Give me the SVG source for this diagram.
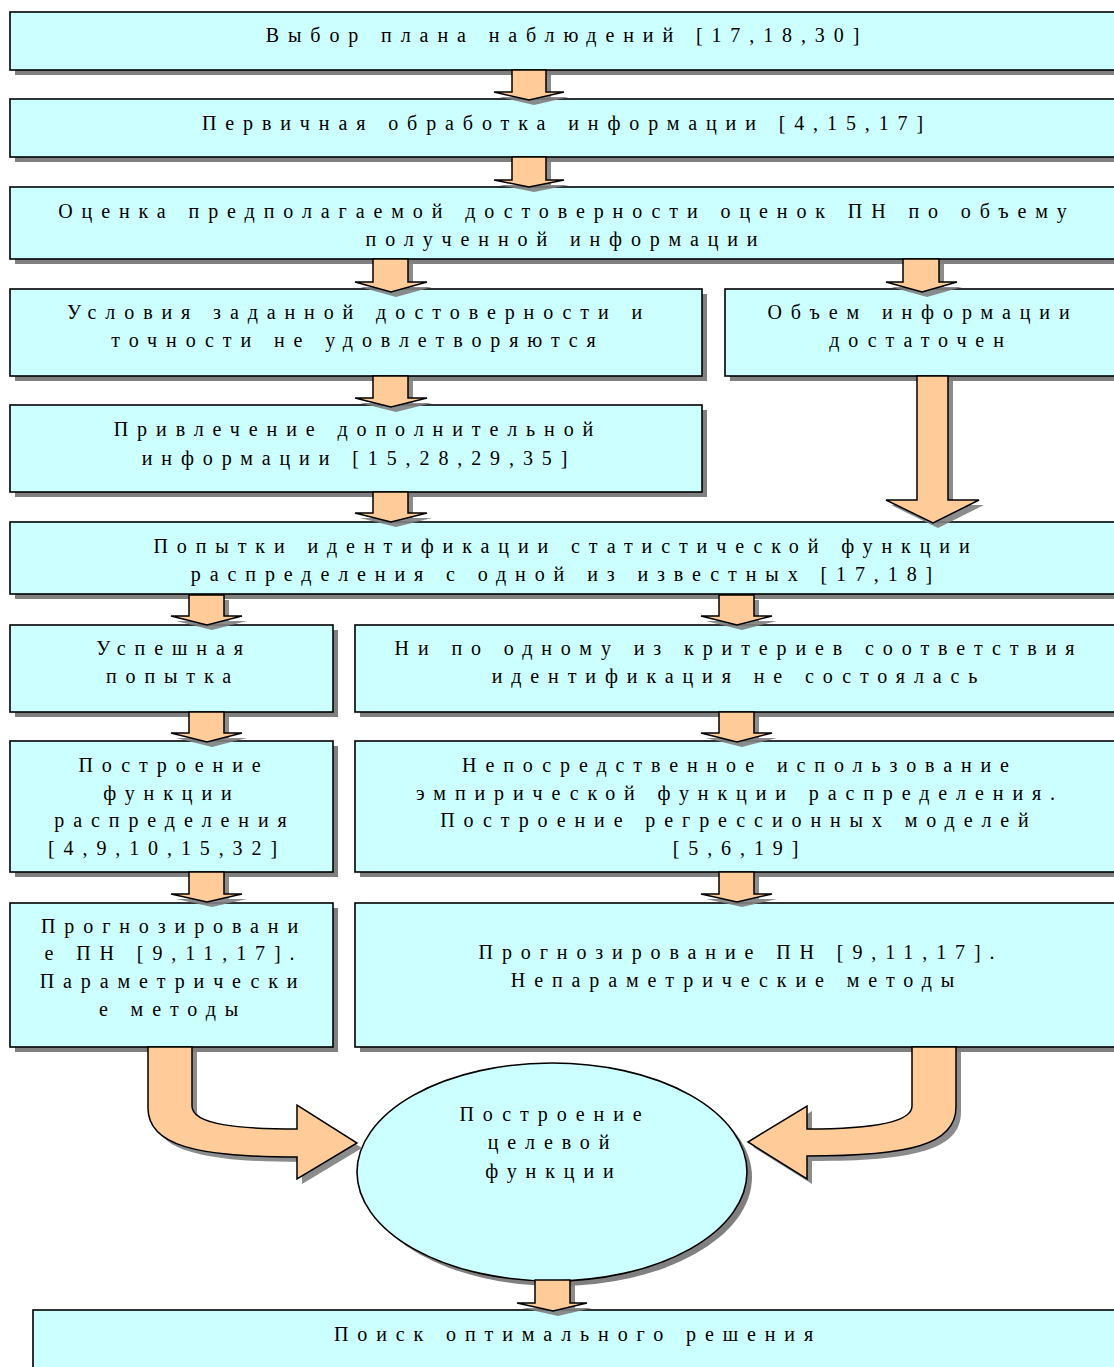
<svg xmlns="http://www.w3.org/2000/svg" width="1114" height="1367" viewBox="0 0 1114 1367">
<style>
.box{fill:#CCFFFF;stroke:#000;stroke-width:1.6}
.sh{fill:#808080}
.arr{fill:#FFCC99;stroke:#000;stroke-width:1.5;stroke-linejoin:miter}
.ash{fill:#808080;opacity:0.9}
.t{font-family:'Liberation Serif','Times New Roman','DejaVu Serif',serif;font-size:20px;letter-spacing:8.9px;fill:#000;text-anchor:middle}
</style>
<rect width="1114" height="1367" fill="#fff"/>
<g class="t" font-family="Liberation Serif, Times New Roman, serif">
<g id="n1">
<rect class="sh" x="15" y="17" width="1106" height="58"/>
<rect class="box" x="10" y="12" width="1106" height="58"/>
<text x="567" y="42">Выбор плана наблюдений [17,18,30]</text>
</g>
<g id="n2">
<rect class="sh" x="15" y="104" width="1106" height="58"/>
<rect class="box" x="10" y="99" width="1106" height="58"/>
<text x="567" y="130">Первичная обработка информации [4,15,17]</text>
</g>
<g id="n3">
<rect class="sh" x="15" y="192" width="1106" height="72"/>
<rect class="box" x="10" y="187" width="1106" height="72"/>
<text x="567" y="218">Оценка предполагаемой достоверности оценок ПН по объему</text>
<text x="566" y="246">полученной информации</text>
</g>
<g id="n4a">
<rect class="sh" x="15" y="294" width="692" height="87"/>
<rect class="box" x="10" y="289" width="692" height="87"/>
<text x="359" y="319">Условия заданной достоверности и</text>
<text x="358" y="347">точности не удовлетворяются</text>
</g>
<g id="n4b">
<rect class="sh" x="730" y="294" width="391" height="87"/>
<rect class="box" x="725" y="289" width="391" height="87"/>
<text x="923" y="319">Объем информации</text>
<text x="921" y="347">достаточен</text>
</g>
<g id="n5">
<rect class="sh" x="15" y="410" width="692" height="87"/>
<rect class="box" x="10" y="405" width="692" height="87"/>
<text x="358" y="436">Привлечение дополнительной</text>
<text x="359" y="465">информации [15,28,29,35]</text>
</g>
<g id="n6">
<rect class="sh" x="15" y="527" width="1106" height="72"/>
<rect class="box" x="10" y="522" width="1106" height="72"/>
<text x="566" y="553">Попытки идентификации статистической функции</text>
<text x="566" y="581">распределения с одной из известных [17,18]</text>
</g>
<g id="n7a">
<rect class="sh" x="15" y="630" width="323" height="87"/>
<rect class="box" x="10" y="625" width="323" height="87"/>
<text x="174" y="655">Успешная</text>
<text x="173" y="683">попытка</text>
</g>
<g id="n7b">
<rect class="sh" x="360" y="630" width="761" height="87"/>
<rect class="box" x="355" y="625" width="761" height="87"/>
<text x="739" y="655">Ни по одному из критериев соответствия</text>
<text x="739" y="683">идентификация не состоялась</text>
</g>
<g id="n8a">
<rect class="sh" x="15" y="746" width="323" height="131"/>
<rect class="box" x="10" y="741" width="323" height="131"/>
<text x="174" y="772">Построение</text>
<text x="172" y="800">функции</text>
<text x="175" y="827">распределения</text>
<text x="167" y="855">[4,9,10,15,32]</text>
</g>
<g id="n8b">
<rect class="sh" x="360" y="746" width="761" height="131"/>
<rect class="box" x="355" y="741" width="761" height="131"/>
<text x="740" y="772">Непосредственное использование</text>
<text x="740" y="800">эмпирической функции распределения.</text>
<text x="739" y="827">Построение регрессионных моделей</text>
<text x="740" y="855">[5,6,19]</text>
</g>
<g id="n9a">
<rect class="sh" x="15" y="908" width="323" height="144"/>
<rect class="box" x="10" y="903" width="323" height="144"/>
<text x="174" y="933">Прогнозировани</text>
<text x="174" y="960">е ПН [9,11,17].</text>
<text x="173" y="988">Параметрически</text>
<text x="173" y="1016">е методы</text>
</g>
<g id="n9b">
<rect class="sh" x="360" y="908" width="761" height="144"/>
<rect class="box" x="355" y="903" width="761" height="144"/>
<text x="741" y="959">Прогнозирование ПН [9,11,17].</text>
<text x="737" y="987">Непараметрические методы</text>
</g>
<g id="n10">
<ellipse class="sh" cx="557" cy="1177" rx="195" ry="109"/>
<ellipse class="box" cx="552" cy="1172" rx="195" ry="109"/>
<text x="555" y="1121">Построение</text>
<text x="553" y="1149">целевой</text>
<text x="554" y="1178">функции</text>
</g>
<g id="n11">
<rect class="sh" x="38" y="1315" width="1083" height="60"/>
<rect class="box" x="33" y="1310" width="1083" height="60"/>
<text x="578" y="1341">Поиск оптимального решения</text>
</g>
</g>

<g id="connectors">
<g class="ash">
<path d="M517,75 L517,97 L499,97 L534,105 L569,97 L551,97 L551,75 Z"/>
<path d="M517,162 L517,185 L499,185 L534,192 L569,185 L551,185 L551,162 Z"/>
<path d="M378,264 L378,287 L360,287 L396,297 L432,287 L413,287 L413,264 Z"/>
<path d="M908,264 L908,287 L891,287 L927,297 L962,287 L944,287 L944,264 Z"/>
<path d="M378,381 L378,403 L360,403 L396,412 L432,403 L413,403 L413,381 Z"/>
<path d="M378,497 L378,518 L360,518 L396,527 L432,518 L413,518 L413,497 Z"/>
<path d="M194,600 L194,621 L176,621 L212,630 L247,621 L229,621 L229,600 Z"/>
<path d="M724,600 L724,621 L706,621 L742,630 L777,621 L759,621 L759,600 Z"/>
<path d="M194,717 L194,738 L176,738 L212,747 L247,738 L229,738 L229,717 Z"/>
<path d="M724,717 L724,738 L706,738 L742,747 L777,738 L759,738 L759,717 Z"/>
<path d="M194,877 L194,899 L176,899 L212,907 L247,899 L229,899 L229,877 Z"/>
<path d="M724,877 L724,899 L706,899 L742,907 L777,899 L759,899 L759,877 Z"/>
<path d="M540,1285 L540,1308 L522,1308 L558,1316 L592,1308 L575,1308 L575,1285 Z"/>
<path d="M922,381 L922,505 L891,505 L938,528 L984,505 L953,505 L953,381 Z"/>
<path d="M153,1052 L153,1113 C153,1150 200,1162 302,1162 L302,1184 L362,1148 L302,1110 L302,1134 C245,1134 197,1130 197,1111 L197,1052 Z"/>
<path d="M917,1052 L917,1111 C917,1127 879,1134 812,1134 L812,1111 L753,1147 L812,1184 L812,1161 C914,1161 961,1150 961,1112 L961,1052 Z"/>
</g>
<g class="arr">
<path d="M512,70 L512,92 L494,92 L529,100 L564,92 L546,92 L546,70 Z"/>
<path d="M512,157 L512,180 L494,180 L529,187 L564,180 L546,180 L546,157 Z"/>
<path d="M373,259 L373,282 L355,282 L391,292 L427,282 L408,282 L408,259 Z"/>
<path d="M903,259 L903,282 L886,282 L922,292 L957,282 L939,282 L939,259 Z"/>
<path d="M373,376 L373,398 L355,398 L391,407 L427,398 L408,398 L408,376 Z"/>
<path d="M373,492 L373,513 L355,513 L391,522 L427,513 L408,513 L408,492 Z"/>
<path d="M189,595 L189,616 L171,616 L207,625 L242,616 L224,616 L224,595 Z"/>
<path d="M719,595 L719,616 L701,616 L737,625 L772,616 L754,616 L754,595 Z"/>
<path d="M189,712 L189,733 L171,733 L207,742 L242,733 L224,733 L224,712 Z"/>
<path d="M719,712 L719,733 L701,733 L737,742 L772,733 L754,733 L754,712 Z"/>
<path d="M189,872 L189,894 L171,894 L207,902 L242,894 L224,894 L224,872 Z"/>
<path d="M719,872 L719,894 L701,894 L737,902 L772,894 L754,894 L754,872 Z"/>
<path d="M535,1280 L535,1303 L517,1303 L553,1311 L587,1303 L570,1303 L570,1280 Z"/>
<path d="M917,376 L917,500 L886,500 L933,523 L979,500 L948,500 L948,376 Z"/>
<path d="M148,1047 L148,1108 C148,1145 195,1157 297,1157 L297,1179 L357,1143 L297,1105 L297,1129 C240,1129 192,1125 192,1106 L192,1047 Z"/>
<path d="M912,1047 L912,1106 C912,1122 874,1129 807,1129 L807,1106 L748,1142 L807,1179 L807,1156 C909,1156 956,1145 956,1107 L956,1047 Z"/>
</g>
</g>
</svg>
